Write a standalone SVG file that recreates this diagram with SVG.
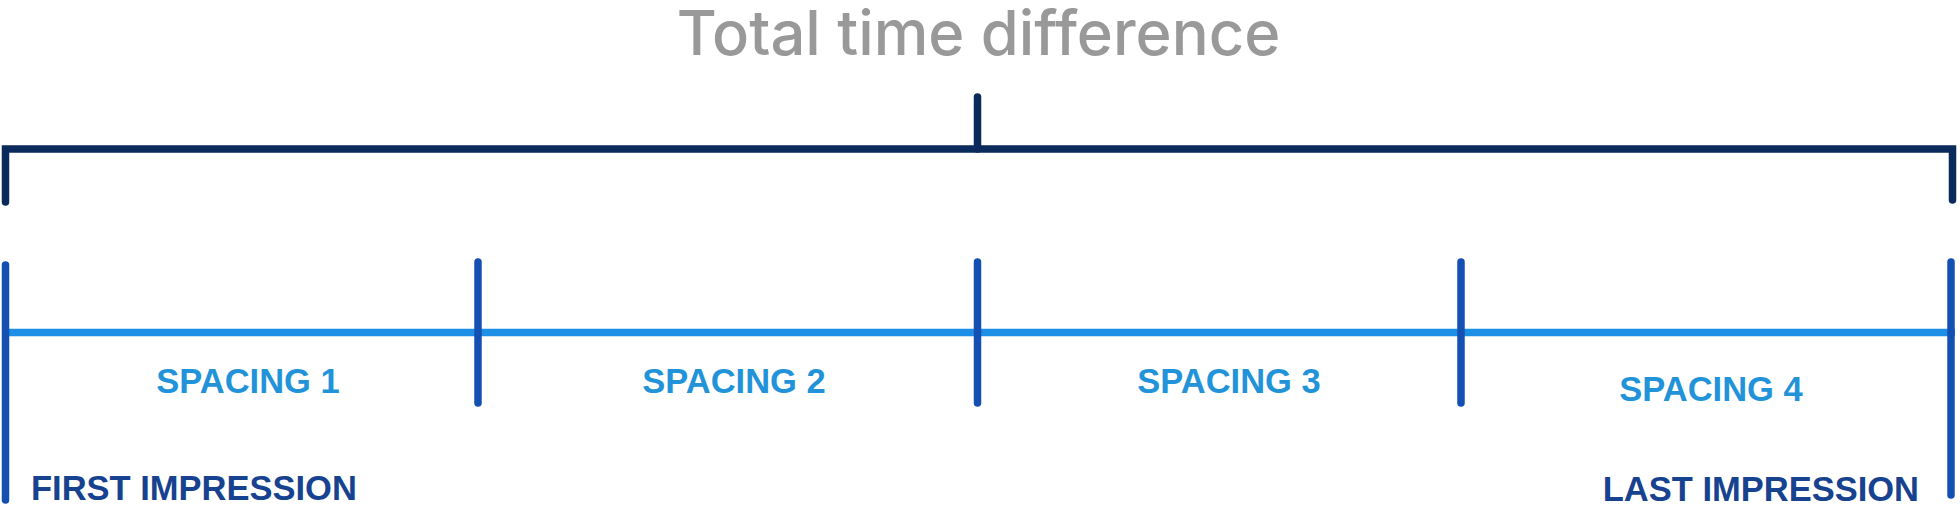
<svg xmlns="http://www.w3.org/2000/svg" width="1960" height="530" viewBox="0 0 1960 530">
<style>
.bracket{stroke:#0b2a5c;stroke-width:7.5;stroke-linecap:round;fill:none}
.axis{stroke:#1e8fe6;stroke-width:7.5;fill:none}
.tick{stroke:#1450b2;stroke-width:7.5;stroke-linecap:round;fill:none}
.title{font-family:Inter,"Liberation Sans",sans-serif;font-weight:500;font-size:61.5px;fill:#999999}
.sp{font-family:"Liberation Sans",Arial,sans-serif;font-weight:bold;font-size:34.5px;fill:#2293d8}
.imp{font-family:"Liberation Sans",Arial,sans-serif;font-weight:bold;font-size:34.5px;fill:#17428f}
</style>
<rect width="1960" height="530" fill="#ffffff"/>
<g id="title"><text class="title" x="978.5" y="55" text-anchor="middle">Total time difference</text></g>
<g id="connectors">
<path class="bracket" d="M5.5,202 V149 H1952.5 V200"/>
<line class="bracket" x1="977.5" y1="97" x2="977.5" y2="149"/>
<line class="axis" x1="5" y1="332.5" x2="1955" y2="332.5"/>
</g>
<g id="tick-first"><line class="tick" x1="5.5" y1="265" x2="5.5" y2="500"/></g>
<g id="tick-2"><line class="tick" x1="478" y1="262" x2="478" y2="403"/></g>
<g id="tick-3"><line class="tick" x1="977.5" y1="262" x2="977.5" y2="403"/></g>
<g id="tick-4"><line class="tick" x1="1461" y1="262" x2="1461" y2="403"/></g>
<g id="tick-last"><line class="tick" x1="1951" y1="262" x2="1951" y2="495"/></g>
<g id="spacing-1"><text class="sp" x="248" y="393" text-anchor="middle">SPACING 1</text></g>
<g id="spacing-2"><text class="sp" x="734" y="393" text-anchor="middle">SPACING 2</text></g>
<g id="spacing-3"><text class="sp" x="1229" y="393" text-anchor="middle">SPACING 3</text></g>
<g id="spacing-4"><text class="sp" x="1711" y="401" text-anchor="middle">SPACING 4</text></g>
<g id="first-impression"><text class="imp" x="31" y="500">FIRST IMPRESSION</text></g>
<g id="last-impression"><text class="imp" x="1919" y="501" text-anchor="end">LAST IMPRESSION</text></g>
</svg>
